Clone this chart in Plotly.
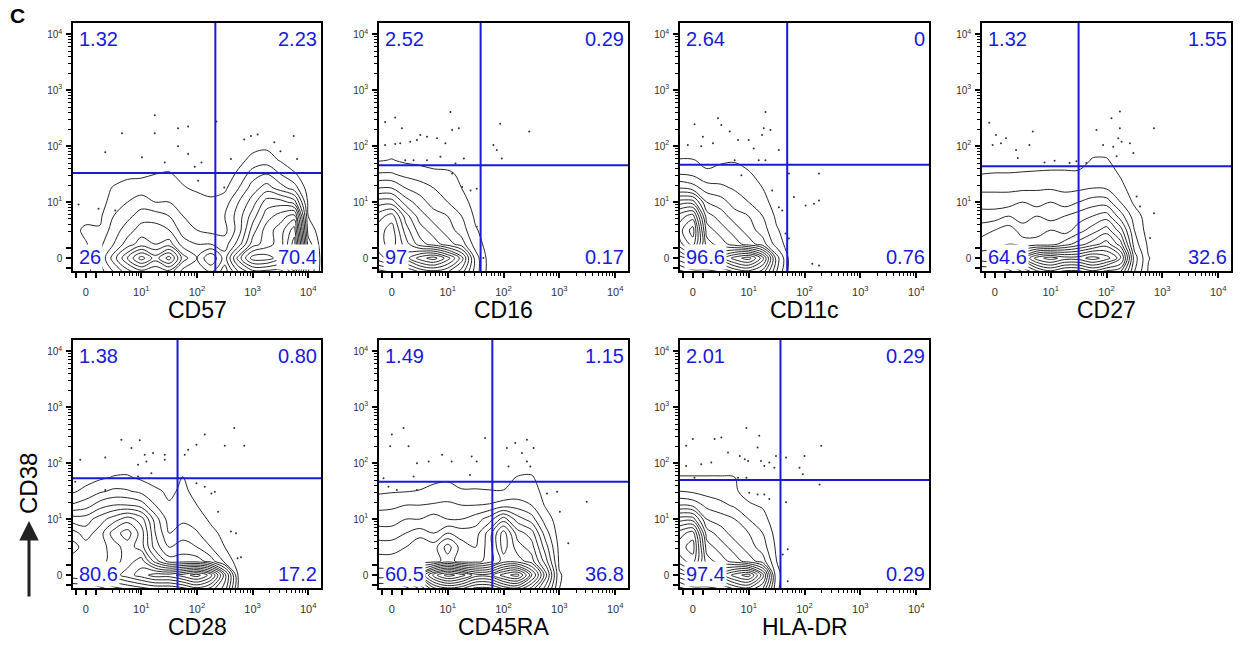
import math
import plotly.graph_objects as go

# ---------------- data (display units: 0 -> "0", 1 -> 10^1, ... 4 -> 10^4) -------------
MARKERS = ["CD57", "CD16", "CD11c", "CD27", "CD28", "CD45RA", "HLA-DR"]
Y_MARKER = "CD38"

# quadrant percentages: [upper-left, upper-right, lower-left, lower-right]
Q_CD57 = ["1.32", "2.23", "26", "70.4"]
Q_CD16 = ["2.52", "0.29", "97", "0.17"]
Q_CD11C = ["2.64", "0", "96.6", "0.76"]
Q_CD27 = ["1.32", "1.55", "64.6", "32.6"]
Q_CD28 = ["1.38", "0.80", "80.6", "17.2"]
Q_CD45RA = ["1.49", "1.15", "60.5", "36.8"]
Q_HLADR = ["2.01", "0.29", "97.4", "0.29"]

# quadrant gate positions (x gate, y gate)
GATE_X = [2.33, 1.59, 1.69, 1.50, 1.65, 1.80, 1.57]
GATE_Y = [1.52, 1.66, 1.67, 1.64, 1.73, 1.67, 1.70]

TICK_VALS = [-0.18, 0, 0.18, 1, 2, 3, 4]
TICK_TEXT = ["", "0", "", "10<sup>1</sup>", "10<sup>2</sup>", "10<sup>3</sup>", "10<sup>4</sup>"]

# density grid nodes
X_NODES = [-0.25, 0, 0.25, 0.5, 0.75, 1.0, 1.25, 1.5, 1.75, 2.0, 2.25, 2.5, 2.75,
           3.0, 3.25, 3.5, 3.75, 4.0, 4.25]
Y_NODES = [-0.25, 0, 0.25, 0.5, 0.75, 1.0, 1.25, 1.5, 1.75, 2.0, 2.25]

# contour depth (rows = Y_NODES bottom->top, cols = X_NODES)
D_CD57 = [
    [0, 0.2, 1, 2.5, 4, 5, 4.5, 5, 3, 2.5, 3.5, 2, 4.5, 6, 6, 6, 8, 2.5, 0],
    [0, 0.3, 1.5, 4, 6.5, 9, 7, 9, 5, 3.5, 5.5, 3, 7, 10, 10, 9, 12, 3, 0],
    [0, 0.4, 1.2, 2.5, 4, 5, 4.5, 5, 3, 2.5, 2.5, 2, 4, 7, 8, 9, 12, 2, 0],
    [0, 0.8, 0.6, 2, 3, 4, 4, 3.5, 2, 1.5, 1.2, 1.2, 3, 6, 8, 9, 11, 1, 0],
    [0, 0, 0.3, 1.5, 2.2, 3, 3, 2.5, 1.5, 1, 1, 1.5, 3, 5, 7, 8, 9, 0.5, 0],
    [0, 0, 0, 1, 1.5, 2, 1.5, 1.5, 1, 1, 0.8, 1, 2.5, 4, 6, 6, 5, 0.3, 0],
    [0, 0, 0, 0.6, 1, 1, 0.8, 1, 0.6, 0.3, 0, 0.3, 1.5, 3, 4, 3, 2, 0, 0],
    [0, 0, 0, 0, 0.2, 0.3, 0.5, 0.6, 0.2, 0, 0, 0, 0.7, 2, 2.5, 1.5, 0.6, 0, 0],
    [0, 0, 0, 0, 0, 0, 0, 0, 0, 0, 0, 0, 0.2, 0.8, 1, 0.4, 0, 0, 0],
    [0, 0, 0, 0, 0, 0, 0, 0, 0, 0, 0, 0, 0, 0.2, 0.3, 0, 0, 0, 0],
    [],
]
D_CD16 = [
    [5, 5.5, 5.5, 6.5, 7, 6.5, 5, 2, 0],
    [8, 9, 9, 11, 12, 10, 7, 2, 0],
    [9, 10, 8, 6, 5, 4, 3, 1, 0],
    [9, 10, 7, 5, 4, 3, 2, 0.6, 0],
    [8, 9, 6, 4, 3, 2.5, 1.5, 0.3, 0],
    [6, 6, 4, 3, 2, 1.5, 1, 0, 0],
    [3.5, 3.5, 2.5, 2, 1.5, 1, 0.5, 0],
    [1.6, 1.6, 1.2, 1, 0.8, 0.7, 0.3, 0],
    [0.4, 0.55, 0.3, 0.2, 0, 0],
    [], [],
]
D_CD11C = [
    [4, 5, 5, 5.5, 6.5, 7, 6, 2.5, 0],
    [7, 8, 8, 9, 11, 12, 9, 3, 0],
    [10, 12, 7, 6, 5, 4, 3, 1, 0],
    [11, 13, 6, 5, 4, 3, 2, 0.6, 0],
    [10, 11, 5, 4, 3, 2.5, 1.5, 0.3, 0],
    [7, 7, 3.5, 3, 2, 1.5, 0.9, 0],
    [3.5, 3, 2, 1.7, 1.4, 1, 0.5, 0],
    [1.5, 1.3, 0.7, 1.0, 1.0, 0.6, 0.2, 0],
    [0.55, 0.55, 0.2, 0.3, 0.4, 0.2, 0],
    [], [],
]
D_CD27 = [
    [3.5, 3.5, 4, 5.5, 7, 8, 7, 7, 8, 7, 6.5, 2.5, 0.4, 0],
    [6, 6.5, 7, 9, 12, 13, 12, 12, 13, 12, 10, 3, 0.55, 0],
    [5, 5, 5.5, 5, 5, 5, 6, 7, 8, 9, 7, 2, 0.3, 0],
    [4, 4.5, 5, 4, 4, 4.5, 4, 5, 6, 7, 5, 1.5, 0],
    [3, 3, 3.5, 3, 3.5, 3, 3.5, 4, 4.5, 5, 3, 1, 0],
    [2, 2, 2, 2.5, 2, 2.5, 2, 2.5, 3, 3, 1.5, 0.3, 0],
    [1.3, 1.3, 1.3, 1.3, 1.4, 1.4, 1.3, 1.3, 1.5, 1.4, 0.8, 0],
    [0.5, 0.55, 0.55, 0.6, 0.65, 0.7, 0.7, 0.7, 1.0, 1.0, 0.4, 0],
    [0, 0, 0, 0, 0, 0, 0, 0, 0.6, 0.6, 0],
    [], [],
]
D_CD28 = [
    [3.5, 3.5, 4, 5, 5.5, 6, 6.5, 6.5, 7, 8, 7, 5, 0.2, 0],
    [6, 6.5, 7, 8, 9, 10, 11, 11, 12, 13, 11, 6, 0.2, 0],
    [6, 6, 6, 7, 8, 9, 6, 4, 4, 4, 3, 1.2, 0],
    [7, 6, 6, 7, 8, 7, 4, 2.5, 3, 2.5, 1.5, 0.5, 0],
    [6, 5, 6, 8, 9, 7, 3.5, 1.5, 2, 1.6, 0.8, 0.2, 0],
    [4, 4, 5, 6, 7, 6, 3, 1, 1.3, 1.0, 0.3, 0],
    [1.6, 2, 3, 3.5, 3.5, 3, 1.5, 0.6, 0.9, 0.5, 0],
    [0.3, 0.8, 1.3, 1.7, 1.6, 1.2, 0.7, 0.3, 0.7, 0.2, 0],
    [0, 0, 0.3, 0.55, 0.6, 0.3, 0, 0, 0.55, 0],
    [], [],
]
D_CD45RA = [
    [3.5, 3.5, 4, 5.5, 8, 9, 8.5, 7, 7, 8.5, 9, 7, 4, 0.5, 0],
    [6, 6, 7, 9, 13, 15, 14, 12, 12, 14, 15, 11, 6, 0.6, 0],
    [5, 5, 5, 5, 5, 6, 5, 5, 6, 8, 8, 7, 4, 0.3, 0],
    [4, 4, 4.5, 5.5, 5, 7, 5, 4.5, 6, 9, 7, 6, 3, 0.2, 0],
    [3, 3, 3.5, 4, 3.5, 4.5, 4, 4, 6, 9, 6, 5, 2, 0],
    [2, 2, 2.5, 2.5, 3, 2.5, 2.5, 3, 4, 6, 4, 3, 1, 0],
    [1.2, 1.3, 1.5, 1.5, 1.6, 1.7, 1.5, 1.5, 1.6, 2, 2, 1.5, 0.4, 0],
    [0.3, 0.4, 0.45, 0.55, 0.8, 0.9, 0.6, 0.6, 0.55, 0.55, 0.8, 0.9, 0.2, 0],
    [0, 0, 0, 0, 0.2, 0.3, 0, 0, 0, 0, 0.55, 0.6, 0],
    [], [],
]
D_HLADR = [
    [4, 5, 5, 5.5, 6.5, 7, 5.5, 0.6, 0],
    [7, 8, 8, 9, 11, 12, 8, 0.7, 0],
    [10, 11, 7, 6, 5, 4, 3, 0.5, 0],
    [11, 12, 6, 5, 4, 3, 2, 0.3, 0],
    [10, 11, 5, 4, 3, 2.5, 1.5, 0.1, 0],
    [7, 7, 3.5, 3, 2.5, 1.5, 0.8, 0],
    [3.5, 3.2, 2.2, 1.8, 1.3, 0.6, 0.4, 0],
    [1.5, 1.3, 1.1, 0.9, 0.6, 0.2, 0.1, 0],
    [0.55, 0.55, 0.55, 0.55, 0.5, 0.2, 0],
    [], [],
]

# outlier events (x, y)
P_CD57_X = [1.24, 0.65, 1.24, 1.66, 1.84, 2.35, 0.35, 1.01, 1.42, 1.66, 1.96, 2.08, 1.84, 2.61,
            2.85, 2.97, 3.09, 3.39, 3.74, 3.80, 3.50, -0.13, 0.23, 0.53, 2.02, 2.49]
P_CD57_Y = [2.55, 2.23, 2.23, 2.32, 2.35, 2.44, 1.89, 1.80, 1.71, 2.00, 1.63, 1.71, 1.86, 1.77,
            2.12, 2.18, 2.21, 2.07, 2.18, 1.77, 1.91, 0.96, 0.88, 0.85, 1.38, 1.26]
P_CD16_X = [-0.12, 0.06, 0.18, -0.12, 0.06, 0.15, 0.33, 0.45, 0.51, 0.63, 0.81, 0.96, 1.08, 1.20,
            1.05, 0.24, 0.39, 0.63, 0.87, 1.14, 1.29, 1.94, 1.82, 1.88, 1.97, 2.46, 1.08, 1.26,
            1.41, 1.52, 1.52, 1.64]
P_CD16_Y = [2.43, 2.51, 2.32, 2.02, 2.04, 2.05, 2.08, 2.11, 2.20, 2.17, 2.14, 2.05, 2.29, 2.32,
            2.61, 1.75, 1.75, 1.75, 1.81, 1.69, 1.78, 2.40, 2.02, 1.93, 1.78, 2.26, 1.51, 1.27,
            1.21, 1.24, 0.56, 0.0]
P_CD11C_X = [0.03, 0.18, -0.09, 0.15, 0.36, 0.45, 0.51, 0.66, 0.81, 1.00, 1.09, 1.30, 1.27, 1.39,
             1.24, 1.54, 1.18, 1.30, 0.75, 0.87, 1.42, 1.54, 1.60, 1.81, 2.02, 2.17, 2.26, 2.26,
             1.72, 2.14, 2.26, 1.66, 1.72]
P_CD11C_Y = [2.39, 2.17, 2.02, 2.00, 2.05, 2.50, 2.38, 2.26, 2.11, 2.11, 1.96, 2.61, 2.32, 2.29,
             2.20, 1.93, 1.75, 1.75, 1.75, 1.48, 1.21, 0.91, 0.85, 1.09, 0.94, 0.97, 1.03, 1.51,
             1.51, -0.10, -0.13, 0.44, 0.35]
P_CD27_X = [-0.10, 0.02, 0.11, 0.20, -0.04, 0.38, 0.41, 0.68, 0.62, 0.89, 1.07, 1.34, 1.46, 1.64,
            1.82, 1.94, 2.09, 2.24, 2.24, 2.21, 2.12, 2.27, 2.42, 2.48, 2.85, 2.54, 2.60, 2.78,
            2.85, 2.18]
P_CD27_Y = [2.42, 2.20, 2.05, 2.14, 2.02, 1.93, 1.79, 2.26, 2.02, 1.71, 1.74, 1.70, 1.73, 1.70,
            2.29, 2.02, 2.50, 2.62, 2.32, 2.14, 1.99, 2.08, 2.05, 1.88, 2.32, 1.10, 0.92, 0.36,
            0.80, 1.82]
P_CD28_X = [-0.10, 0.35, 0.64, 0.82, 0.97, 1.06, 1.21, 0.94, 1.09, 1.42, 1.42, 1.78, 1.84, 1.99,
            2.14, 2.50, 2.67, 2.85, 1.99, 2.14, 2.26, 2.32, 2.38, 2.61, 2.70, 2.73, 2.79, 0.35,
            0.94, 1.18, -0.19]
P_CD28_Y = [2.06, 2.10, 2.42, 2.27, 2.41, 2.15, 2.18, 1.97, 2.03, 2.15, 2.06, 2.15, 2.24, 2.33,
            2.51, 2.31, 2.63, 2.31, 1.64, 1.58, 1.46, 1.49, 1.13, 0.78, 0.75, 0.30, 0.32, 1.52,
            1.76, 1.82, 1.67]
P_CD45RA_X = [0.00, -0.03, 0.21, 0.30, 0.45, 0.66, 0.90, 1.07, 1.43, 1.52, 1.67, 2.06, 2.21, 2.33,
              2.42, 2.54, 2.42, 2.48, 2.09, -0.06, 0.09, 0.39, 0.45, 1.40, 2.96, 3.01, 3.49, 3.16,
              2.78, -0.15]
P_CD45RA_Y = [2.51, 2.30, 2.63, 2.30, 2.00, 2.03, 2.15, 2.03, 2.12, 2.03, 2.45, 2.27, 2.36, 2.18,
              2.42, 2.27, 2.03, 1.94, 1.94, 1.58, 1.52, 1.76, 1.52, 1.79, 1.49, 1.13, 1.31, 0.57,
              1.46, 1.73]
P_HLADR_X = [-0.12, 0.00, -0.12, 0.15, 0.33, 0.39, 0.51, 0.63, 0.84, 0.96, 0.93, 0.99, 1.16, 1.19,
             1.22, 1.28, 1.37, 1.46, 1.49, 1.67, 2.00, 2.30, 1.91, 1.97, 2.27, 1.01, 1.16, 1.28,
             1.37, 1.67, 1.70, 1.61, 1.70, 0.81, 0.03, 0.96]
P_HLADR_Y = [2.31, 2.43, 1.95, 1.98, 2.01, 2.43, 2.46, 2.19, 2.13, 2.63, 2.07, 2.04, 2.28, 2.49,
             2.04, 1.95, 2.01, 1.92, 2.13, 2.10, 2.13, 2.31, 1.92, 1.80, 1.62, 1.47, 1.44, 1.44,
             1.36, 1.30, 0.46, 0.37, -0.11, 1.74, 1.74, 1.74]

DENSITY = [D_CD57, D_CD16, D_CD11C, D_CD27, D_CD28, D_CD45RA, D_HLADR]
QUADS = [Q_CD57, Q_CD16, Q_CD11C, Q_CD27, Q_CD28, Q_CD45RA, Q_HLADR]
PTS_X = [P_CD57_X, P_CD16_X, P_CD11C_X, P_CD27_X, P_CD28_X, P_CD45RA_X, P_HLADR_X]
PTS_Y = [P_CD57_Y, P_CD16_Y, P_CD11C_Y, P_CD27_Y, P_CD28_Y, P_CD45RA_Y, P_HLADR_Y]

# ---------------- layout / style ---------------------------------------------------------
W, H = 1241, 646
COLS_PX = [(73, 321), (379, 628), (680, 929), (982, 1231)]
ROWS_PX = [(23, 271), (340, 588)]
XR = [-0.23, 4.23]
YR = [-0.23, 4.2]
BLUE = "#1a1ad8"
FONT = "Arial, 'Liberation Sans', Helvetica, sans-serif"

minor_vals = []
for k in range(0, 4):
    for m in range(2, 10):
        if k == 0 and m < 3:
            continue
        minor_vals.append(k + math.log10(m))

def pad(row):
    return list(row) + [0] * (len(X_NODES) - len(row))

fig = go.Figure()
layout = dict(width=W, height=H, margin=dict(l=0, r=0, t=0, b=0),
              paper_bgcolor="white", plot_bgcolor="white", showlegend=False)
annotations = []
shapes = []

for i, name in enumerate(MARKERS):
    r, c = (0, i) if i < 4 else (1, i - 4)
    x0, x1 = COLS_PX[c]
    y0, y1 = ROWS_PX[r]
    sfx = "" if i == 0 else str(i + 1)
    xa, ya = "x" + sfx, "y" + sfx
    axis_common = dict(showline=True, mirror=True, linecolor="black", linewidth=1.6,
                       ticks="outside", ticklen=5, tickwidth=1.5, tickcolor="black",
                       tickmode="array", tickvals=TICK_VALS, ticktext=TICK_TEXT,
                       showgrid=False, zeroline=False, fixedrange=True,
                       minor=dict(tickmode="array", tickvals=minor_vals, ticks="outside",
                                  ticklen=3, tickwidth=1, tickcolor="black", showgrid=False))
    layout["xaxis" + sfx] = dict(axis_common, domain=[x0 / W, x1 / W], range=XR, anchor=ya,
                                 ticklabelstandoff=5,
                                 tickfont=dict(family=FONT, size=11, color="#333"))
    layout["yaxis" + sfx] = dict(axis_common, domain=[1 - y1 / H, 1 - y0 / H], range=YR,
                                 anchor=xa, ticklabelstandoff=2,
                                 tickfont=dict(family=FONT, size=10, color="#333"))

    z = [pad(row) for row in DENSITY[i]]
    fig.add_trace(go.Contour(x=X_NODES, y=Y_NODES, z=z, xaxis=xa, yaxis=ya,
                             contours=dict(coloring="lines", start=0.5, end=15.5, size=1),
                             line=dict(width=0.9, smoothing=1.0),
                             colorscale=[[0, "#111"], [1, "#111"]],
                             showscale=False, hoverinfo="skip"))
    fig.add_trace(go.Scatter(x=PTS_X[i], y=PTS_Y[i], mode="markers", xaxis=xa, yaxis=ya,
                             marker=dict(size=2, color="#333"), hoverinfo="skip"))

    shapes.append(dict(type="line", xref=xa, yref=ya, x0=GATE_X[i], x1=GATE_X[i],
                       y0=YR[0], y1=YR[1], line=dict(color=BLUE, width=2)))
    shapes.append(dict(type="line", xref=xa, yref=ya, x0=XR[0], x1=XR[1],
                       y0=GATE_Y[i], y1=GATE_Y[i], line=dict(color=BLUE, width=2)))

    q = QUADS[i]
    qfont = dict(family=FONT, size=20, color=BLUE)
    dx, dy = xa + " domain", ya + " domain"
    annotations += [
        dict(text=q[0], xref=dx, yref=dy, x=0, y=1, xanchor="left", yanchor="top",
             xshift=4, yshift=-3, showarrow=False, font=qfont, bgcolor="white", borderpad=1),
        dict(text=q[1], xref=dx, yref=dy, x=1, y=1, xanchor="right", yanchor="top",
             xshift=-2, yshift=-3, showarrow=False, font=qfont, bgcolor="white", borderpad=1),
        dict(text=q[2], xref=dx, yref=dy, x=0, y=0, xanchor="left", yanchor="bottom",
             xshift=4, yshift=1, showarrow=False, font=qfont, bgcolor="white", borderpad=1),
        dict(text=q[3], xref=dx, yref=dy, x=1, y=0, xanchor="right", yanchor="bottom",
             xshift=-2, yshift=1, showarrow=False, font=qfont, bgcolor="white", borderpad=1),
    ]
    # axis title
    ty = 310 if r == 0 else 627
    annotations.append(dict(text=name, xref="paper", yref="paper", x=(x0 + x1) / 2 / W,
                            y=1 - ty / H, xanchor="center", yanchor="middle", showarrow=False,
                            font=dict(family=FONT, size=23, color="black")))

# panel letter
annotations.append(dict(text="<b>C</b>", xref="paper", yref="paper", x=8 / W, y=1 - 2 / H,
                        xanchor="left", yanchor="top", showarrow=False,
                        font=dict(family=FONT, size=21, color="black")))
# y marker label with arrow
annotations.append(dict(text=Y_MARKER, xref="paper", yref="paper", x=28 / W, y=1 - 484 / H,
                        textangle=-90, xanchor="center", yanchor="middle", showarrow=False,
                        font=dict(family=FONT, size=24, color="black")))
annotations.append(dict(text="", xref="paper", yref="paper", x=29 / W, y=1 - 521 / H,
                        ax=0, ay=77, showarrow=True, arrowhead=2, arrowsize=1.3,
                        arrowwidth=3, arrowcolor="#222"))

layout["annotations"] = annotations
layout["shapes"] = shapes
fig.update_layout(**layout)
fig.write_html("out.html")
